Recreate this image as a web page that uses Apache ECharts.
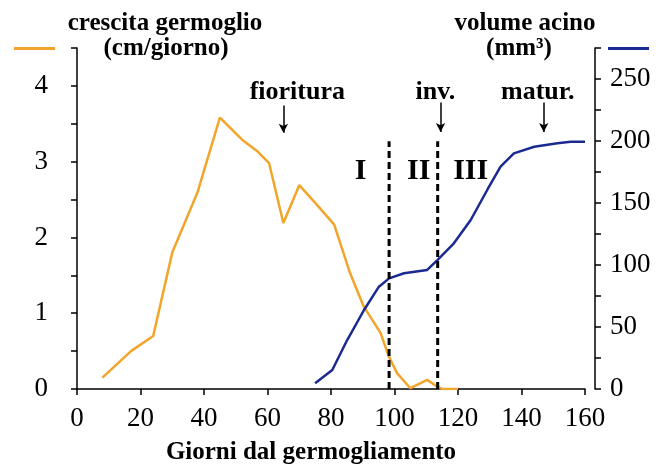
<!DOCTYPE html>
<html>
<head>
<meta charset="utf-8">
<script src="https://cdn.jsdelivr.net/npm/echarts@6/dist/echarts.min.js"></script>
<style>
html,body{margin:0;padding:0;background:#fff;}
#chart{width:661px;height:465px;}
</style>
</head>
<body>
<div id="chart"></div>
<script>
// ---- data ----
const shootDays = [8, 17, 24, 30, 38, 45, 52, 57, 60.5, 65, 70, 76, 81, 86, 90.3, 95.6, 98.2, 100.8, 105, 110.3, 113.5, 115, 120];
const shootGrowth = [0.15, 0.5, 0.7, 1.8, 2.6, 3.58, 3.29, 3.13, 2.98, 2.19, 2.69, 2.41, 2.17, 1.53, 1.09, 0.74, 0.43, 0.21, 0.01, 0.12, 0.03, 0.0, 0.0];
const berryDays = [75, 80.4, 85.1, 90.4, 95.1, 98.3, 103, 110.3, 113.5, 118.7, 124, 129.2, 133.4, 137.6, 144, 151.3, 155.5, 160];
const berryVolume = [4.6, 15.3, 39.5, 63.7, 82.5, 89.2, 93.3, 96, 104, 117.5, 136.3, 160.5, 179.3, 190, 195.4, 198.1, 199.4, 199.4];
const phaseLines = [98.3, 113.6];
const phaseLineTop = 3.27;
const phaseNames = ['I', 'II', 'III'];
const phaseLabelX = [89.3, 107.6, 124];
const phaseLabelY = 2.87;
const eventNames = ['fioritura', 'inv.', 'matur.'];
const eventLabelX = [69.4, 112.9, 145.1];
const eventLabelY = 3.92;
const eventArrowX = [65, 114.5, 147];
const eventArrowTop = [3.74, 3.78, 3.78];
const eventArrowBottom = [3.38, 3.39, 3.39];
const xTicks = {min: 0, max: 160, interval: 20};
const leftTicks = {min: 0, max: 4.5, interval: 0.5};
const rightTicks = {min: 0, max: 275, interval: 25};
const xTitle = 'Giorni dal germogliamento';
const leftTitle = ['crescita germoglio', '(cm/giorno)'];
const rightTitle = ['volume acino', '(mm³)'];

const ORANGE = '#F2A52B';
const BLUE = '#1B2A92';
const FONT = '"Liberation Serif", "DejaVu Serif", serif';

const chart = echarts.init(document.getElementById('chart'));

const axisCommon = {
  axisLine: {show: true, lineStyle: {color: '#000', width: 1.5}},
  axisTick: {show: true, inside: false, length: 6, lineStyle: {color: '#000', width: 1.5}},
  splitLine: {show: false}
};

const series = [
  {
    name: 'crescita germoglio', type: 'line', yAxisIndex: 0, showSymbol: false, symbol: 'none',
    data: shootDays.map((d, i) => [d, shootGrowth[i]]),
    lineStyle: {color: ORANGE, width: 2.5}, itemStyle: {color: ORANGE}, z: 3
  },
  {
    name: 'volume acino', type: 'line', yAxisIndex: 1, showSymbol: false, symbol: 'none',
    data: berryDays.map((d, i) => [d, berryVolume[i]]),
    lineStyle: {color: BLUE, width: 2.5}, itemStyle: {color: BLUE}, z: 3
  }
];
phaseLines.forEach((x, i) => {
  series.push({
    name: 'fase' + i, type: 'line', yAxisIndex: 0, symbol: 'none', silent: true,
    data: [[x, 0], [x, phaseLineTop]],
    lineStyle: {color: '#000', width: 3, type: [7, 4]}, z: 4
  });
});
series.push({
  name: 'fasi', type: 'scatter', yAxisIndex: 0, symbolSize: 0, silent: true,
  itemStyle: {opacity: 1, color: '#000'},
  data: phaseNames.map((n, i) => ({name: n, value: [phaseLabelX[i], phaseLabelY]})),
  label: {show: true, position: 'inside', formatter: p => p.name, color: '#000', opacity: 1,
    fontFamily: FONT, fontWeight: 'bold', fontSize: 30}
});
series.push({
  name: 'eventi', type: 'scatter', yAxisIndex: 0, symbolSize: 0, silent: true,
  itemStyle: {opacity: 1, color: '#000'},
  data: eventNames.map((n, i) => ({name: n, value: [eventLabelX[i], eventLabelY]})),
  label: {show: true, position: 'inside', formatter: p => p.name, color: '#000', opacity: 1,
    fontFamily: FONT, fontWeight: 'bold', fontSize: 26},
  markLine: {
    silent: true, symbol: ['none', 'arrow'], symbolSize: [7, 9],
    label: {show: false},
    lineStyle: {color: '#000', width: 1.5, type: 'solid', opacity: 1},
    data: eventArrowX.map((x, i) => [{coord: [x, eventArrowTop[i]]}, {coord: [x, eventArrowBottom[i]]}])
  }
});

const titleStyle = {fontFamily: FONT, fontWeight: 'bold', fontSize: 25, fill: '#000', textAlign: 'center', textVerticalAlign: 'middle'};

chart.setOption({
  animation: false,
  backgroundColor: '#fff',
  textStyle: {fontFamily: FONT},
  grid: {left: 77, right: 76, top: 48, bottom: 76, containLabel: false},
  legend: [
    {left: 14, top: 47, data: ['crescita germoglio'], icon: 'rect', itemWidth: 41, itemHeight: 3,
      formatter: () => '', selectedMode: false, itemGap: 0, padding: 0},
    {left: 608, top: 47, data: ['volume acino'], icon: 'rect', itemWidth: 41, itemHeight: 3,
      formatter: () => '', selectedMode: false, itemGap: 0, padding: 0}
  ],
  xAxis: Object.assign({
    type: 'value', min: xTicks.min, max: xTicks.max, interval: xTicks.interval,
    axisLabel: {fontFamily: FONT, fontSize: 27, color: '#000', margin: 16}
  }, axisCommon),
  yAxis: [
    Object.assign({
      type: 'value', position: 'left', offset: 12,
      min: leftTicks.min, max: leftTicks.max, interval: leftTicks.interval,
      axisLabel: {fontFamily: FONT, fontSize: 27, color: '#000', margin: 17,
        formatter: v => (Math.abs(v - Math.round(v)) < 1e-9 ? String(Math.round(v)) : '')}
    }, axisCommon),
    Object.assign({
      type: 'value', position: 'right', offset: 10,
      min: rightTicks.min, max: rightTicks.max, interval: rightTicks.interval,
      axisLabel: {fontFamily: FONT, fontSize: 27, color: '#000', margin: 15,
        formatter: v => (v % 50 === 0 ? String(v) : '')}
    }, axisCommon)
  ],
  graphic: [
    {type: 'text', x: 165, y: 24, style: Object.assign({text: leftTitle[0]}, titleStyle)},
    {type: 'text', x: 166, y: 49, style: Object.assign({text: leftTitle[1]}, titleStyle)},
    {type: 'text', x: 525, y: 24, style: Object.assign({text: rightTitle[0]}, titleStyle)},
    {type: 'text', x: 519, y: 49, style: Object.assign({text: rightTitle[1]}, titleStyle)},
    {type: 'text', x: 311, y: 453, style: Object.assign({text: xTitle}, titleStyle)}
  ],
  series: series
});
</script>
</body>
</html>
